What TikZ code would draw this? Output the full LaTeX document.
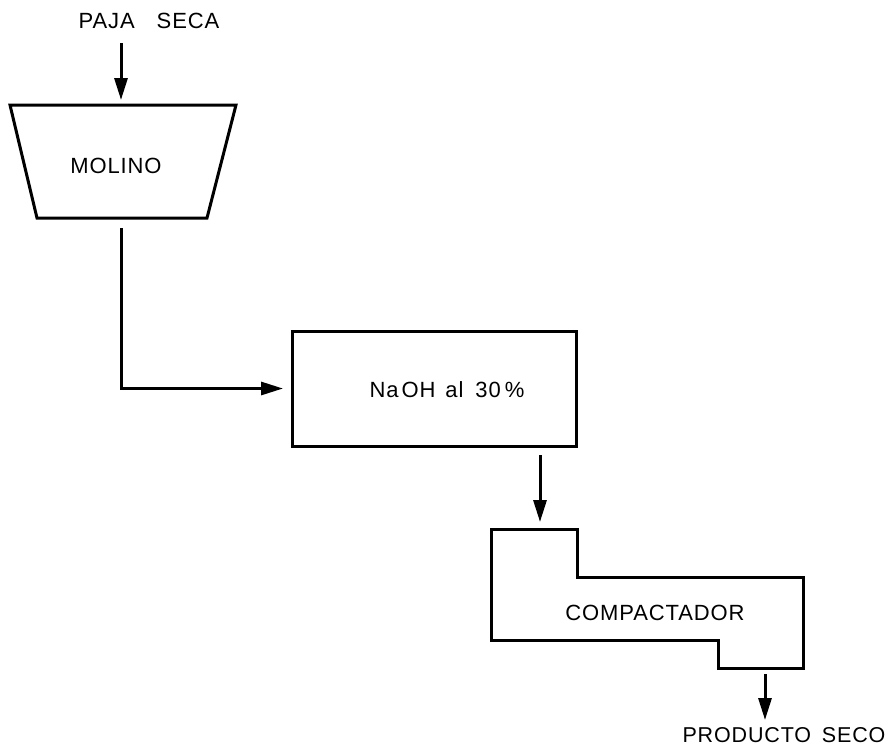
\documentclass[tikz,border=0pt]{standalone}
\usepackage{fontspec}
\setmainfont{Liberation Sans}[LetterSpace=4]
\usetikzlibrary{arrows.meta}
\begin{document}
\begin{tikzpicture}[x=1pt,y=-1pt,
  line width=3pt, line join=miter,
  flow/.style={-{Triangle[length=22pt,width=13pt]}},
  lbl/.style={font=\fontsize{22}{24}\selectfont, inner sep=0pt},
  unit/.style={draw, line width=3pt}]
\useasboundingbox (0,0) rectangle (889,748);
% labels
\node[lbl] (paja) at (149,21) {PAJA\hspace{1em}SECA};
\node[lbl, font=\fontsize{21.5}{24}\selectfont] (producto) at (784,735) {PRODUCTO\hspace{0.5em}SECO};
% molino (trapezoid)
\coordinate (mtl) at (10,105);
\coordinate (mtr) at (236,105);
\coordinate (mbr) at (207,218);
\coordinate (mbl) at (37,218);
\draw[unit] (mtl) -- (mtr) -- (mbr) -- (mbl) -- cycle;
\node[lbl] (molino) at (116,166) {MOLINO};
\coordinate (pajaout) at (121,43);
\coordinate (molinoin) at (121,100);
\coordinate (molinoout) at (121,228);
\draw[flow] (pajaout) -- (molinoin);
% NaOH box
\node[unit, minimum width=284pt, minimum height=115pt, inner sep=0pt] (naohbox) at (434,388.5) {};
\node[lbl] (naoh) at (447,390) {Na\hspace{3pt}OH\hspace{10pt}al\hspace{12pt}30\hspace{4pt}\%};
\coordinate (naohin) at (283,388.5);
\draw[flow] (molinoout) |- (naohin);
\coordinate (naohout) at (540,455);
\coordinate (compin) at (540,522);
\draw[flow] (naohout) -- (compin);
% compactador
\coordinate (c1) at (491,529);
\coordinate (c2) at (577,529);
\coordinate (c3) at (577,577);
\coordinate (c4) at (803,577);
\coordinate (c5) at (803,668);
\coordinate (c6) at (718,668);
\coordinate (c7) at (718,640);
\coordinate (c8) at (491,640);
\draw[unit] (c1) -- (c2) -- (c3) -- (c4) -- (c5) -- (c6) -- (c7) -- (c8) -- cycle;
\node[lbl] (compactador) at (655,613) {COMPACTADOR};
\coordinate (compout) at (765,674);
\coordinate (prodin) at (765,720);
\draw[flow] (compout) -- (prodin);
\end{tikzpicture}
\end{document}
